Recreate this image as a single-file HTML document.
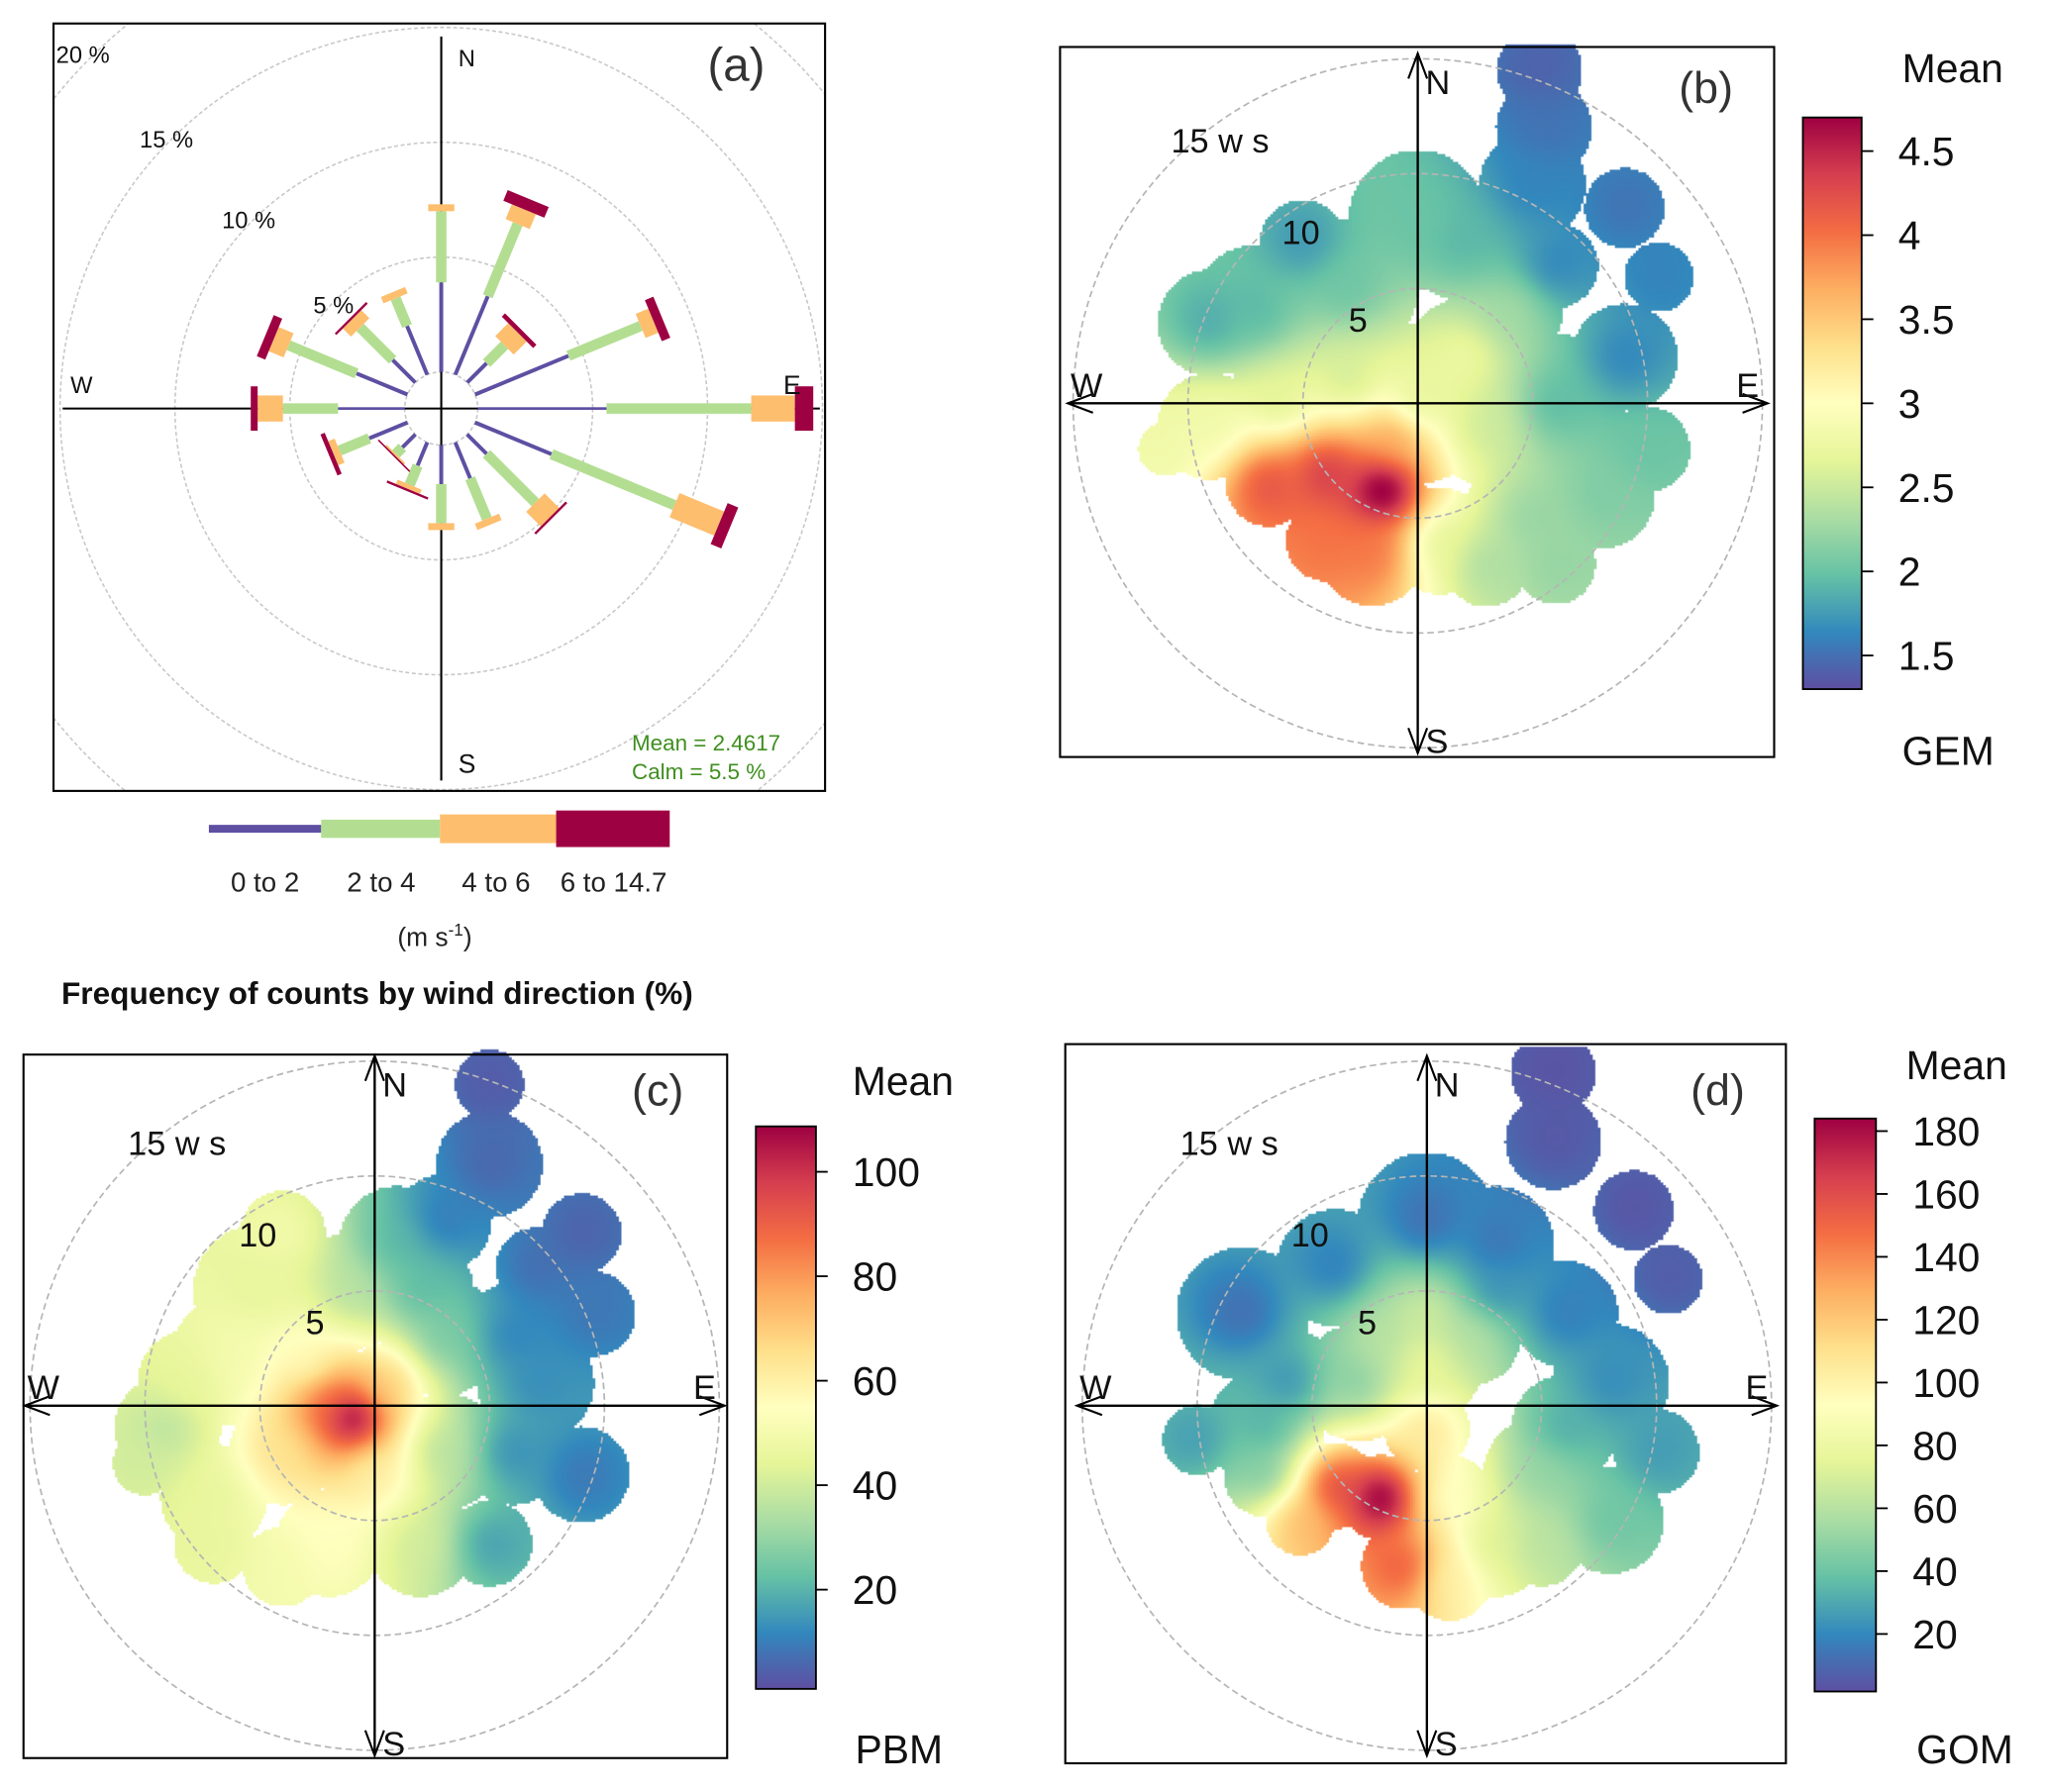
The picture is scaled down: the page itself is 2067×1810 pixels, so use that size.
<!DOCTYPE html>
<html><head><meta charset="utf-8">
<style>
html,body{margin:0;padding:0;background:#fff;}
#wrap{position:absolute;left:0;top:0;width:1568px;height:1373px;transform-origin:0 0;transform:scale(1.318240,1.318282);font-family:"Liberation Sans","DejaVu Sans",sans-serif;}
#wrap svg,#wrap canvas{position:absolute;left:0;top:0;}
</style></head>
<body>
<div id="wrap">
<canvas id="heat" width="1568" height="1373"></canvas>
<svg id="svg" width="1568" height="1373" viewBox="0 0 1568 1373"></svg>
</div>
<script>
// ---------- Wind rose data (panel a) ----------
const wrDirections = [0,22.5,45,67.5,90,112.5,135,157.5,180,202.5,225,247.5,270,292.5,315,337.5];
const wrBin1Cum = [3.9,3.7,1.2,4.4,5.6,3.6,1.2,1.7,1.7,1.1,0.8,1.8,2.9,2.4,1.4,2.3];
const wrBin2Cum = [7.0,7.1,2.3,7.8,11.9,9.4,4.2,3.6,3.4,2.0,1.2,3.2,5.3,5.6,3.4,3.6];
const wrBin3Cum = [7.3,7.8,3.1,8.4,13.8,11.5,5.1,3.9,3.7,2.2,1.3,3.5,6.4,6.3,3.9,3.9];
const wrBin4Cum = [7.3,8.3,3.3,8.8,14.6,12.0,5.2,3.9,3.7,2.3,1.35,3.7,6.7,6.7,4.0,3.9];
const wrBinLabels = ["0 to 2","2 to 4","4 to 6","6 to 14.7"];
const wrRingPct = [5,10,15,20];

// ---------- Polar plot samples: [east ws, north ws, mean value, coverage radius] ----------
const gemPoints = [[5.3,14.5,1.4,1.6],[5.5,12,1.5,1.8],[5,9.5,1.6,2],[9,8.5,1.5,1.5],[10.5,5.5,1.6,1.3],
 [0,8,2.0,2.6],[2,7,1.9,2.2],[-3,5,2.0,2.6],[-7,4,1.9,2.5],[-9,3.5,1.8,2],[-5,7,1.7,1.6],
 [0,0,2.6,3],[2,2,2.8,2.2],[3,-1,2.5,2.2],[-3,1,2.5,2.6],
 [6,0,1.9,2.6],[9,2,1.6,2],[10,-2,2.0,1.6],[8,-4,2.1,2],[5,-5,2.2,2.6],
 [-9,-1,2.8,2],[-11,-2,2.8,1],
 [-1.5,-3.8,5.2,1.6],[-4,-3,4.5,2],[-6.5,-3.5,4.3,1.6],[-2,-6.5,4.0,2],[-1,-1.5,3.8,1.6],
 [1,-6,2.6,2],[3,-7,2.3,1.6],[4,4,2.3,2],[6,6,1.6,1.6],[-6,0,2.6,2],[-4,-6,4.0,1.5],[6,-7,2.2,1.5]];
const pbmPoints = [[-1,-0.5,125,1.5],[-2,0,90,1.5],[0.5,1,70,1.5],[-3,2,55,2],[0,-3,60,2],[-4,-2,65,2],
 [-6,2,50,2.5],[-5,5,45,2.5],[-9,-1,35,2],[-7,-4,45,2],[-2,-6,55,2],[2,-6,40,2],[5,-6,15,1.6],
 [3,-2,35,2.2],[3,3,25,2.2],[1,7,20,2.2],[5,10.5,5,2],[5,14,3,1.3],[9,7.5,4,1.5],[9.5,4,8,1.6],
 [7,1,12,2.2],[9,-3,8,1.8],[-4,7.5,50,1.6],[-1,5,35,2.2],[-10,-2.5,40,1.2],
 [-7,-6,45,1.5],[-8,1,45,2],[-4,-7,50,1.5],[6,-2,12,2],[6,3,10,2],[7,6,6,1.5],[3,8,8,1.8],[2,5,20,2]];
const gomPoints = [[-2,-4,205,1.6],[-4,-3.5,170,1.6],[-1,-7,160,1.6],[-5.5,-5,125,1.3],[0,-1,110,1.6],
 [1,-4,90,1.6],[3,-6,70,2],[5,-3,50,2.2],[0,2,80,2.2],[2,3,60,1.8],[-3,1,45,2.2],[-7,-1,30,2.2],
 [-10,-1.5,25,1.3],[-8,4,10,2.5],[-4,6,15,2.2],[0,8,10,2.6],[3,7,12,2.2],[5.5,14.5,3,1.6],
 [5.5,11.5,4,1.8],[9,8.5,3,1.5],[10.5,5.5,5,1.3],[8,1,20,2.2],[10,-2,25,1.6],[8,-5,40,2],[1,-7.5,100,1.6],
 [6,4,15,2],[6,-1,30,2],[3,5,20,2],[-6,1,20,2],[5,-6,60,1.6],[-7,-3,40,1.6],[0,4,70,2],[-2,3,60,1.6]];
const gemTicks = [1.5,2,2.5,3,3.5,4,4.5];
const pbmTicks = [20,40,60,80,100];
const gomTicks = [20,40,60,80,100,120,140,160,180];
const ringWs = [5,10,15];

const spectral = ["#5E4FA2","#3288BD","#66C2A5","#ABDDA4","#E6F598","#FFFFBF","#FEE08B","#FDAE61","#F46D43","#D53E4F","#9E0142"];
function hex2rgb(h){return [parseInt(h.substr(1,2),16),parseInt(h.substr(3,2),16),parseInt(h.substr(5,2),16)];}
const specRGB = spectral.map(hex2rgb);
function colorAt(t){t=Math.max(0,Math.min(1,t));const f=t*(specRGB.length-1);const i=Math.min(specRGB.length-2,Math.floor(f));const g=f-i;
 return specRGB[i].map((c,k)=>Math.round(c+(specRGB[i+1][k]-c)*g));}

const NS="http://www.w3.org/2000/svg";
const svg=document.getElementById('svg');
function el(tag,attrs,parent){const e=document.createElementNS(NS,tag);for(const k in attrs)e.setAttribute(k,attrs[k]);(parent||svg).appendChild(e);return e;}
function txt(x,y,s,size,opts,parent){opts=opts||{};const t=el('text',Object.assign({x:x,y:y,'font-size':size,fill:opts.fill||'#111','text-anchor':opts.anchor||'start','font-family':'"Liberation Sans","DejaVu Sans",sans-serif'},opts.extra||{}),parent);t.textContent=s;return t;}

// ---------------- Panel (a): wind rose ----------------
const A={cx:338,cy:313,x0:41,y0:18,x1:632,y1:606};
function rr(p){return 28+17.6*p;}
const ga=el('g',{});  
el('clipPath',{id:'clipA'},ga); el('rect',{x:A.x0,y:A.y0,width:A.x1-A.x0,height:A.y1-A.y0},document.getElementById('clipA'));
const rings=el('g',{'clip-path':'url(#clipA)'},ga);
wrRingPct.forEach(p=>{const c=el('circle',{cx:A.cx,cy:A.cy,r:rr(p),fill:'none',stroke:'#c8c8c8','stroke-width':1.2,'stroke-dasharray':'3 2'},rings);
  });
el('circle',{cx:A.cx,cy:A.cy,r:28,fill:'none',stroke:'#c8c8c8','stroke-width':1.2,'stroke-dasharray':'3 2'},rings);
el('line',{x1:A.cx,y1:28,x2:A.cx,y2:598,stroke:'#000','stroke-width':1.6},ga);
el('line',{x1:48,y1:A.cy,x2:628,y2:A.cy,stroke:'#000','stroke-width':1.6},ga);
const binCols=["#5E4FA2","#B3DE92","#FDBE6E","#9E0142"];
const binW=[3,8,20,34];
wrDirections.forEach((d,i)=>{
  const cums=[0,wrBin1Cum[i],wrBin2Cum[i],wrBin3Cum[i],wrBin4Cum[i]];
  for(let b=0;b<4;b++){
    const r0=rr(cums[b]), r1=rr(cums[b+1]); if(r1-r0<=0.05) continue;
    const w=(b===0 && (d===90||d===270))?2:binW[b];
    const rc=el('rect',{x:A.cx-w/2,y:A.cy-r1,width:w,height:Math.max(r1-r0,1.2),fill:binCols[b],transform:'rotate('+d+' '+A.cx+' '+A.cy+')'},ga);
     
  }
});
el('rect',{x:A.x0,y:A.y0,width:A.x1-A.x0,height:A.y1-A.y0,fill:'none',stroke:'#000','stroke-width':1.6},ga);
txt(43,48,'20 %',18,{},ga);txt(107,113,'15 %',18,{},ga);txt(170,175,'10 %',18,{},ga);txt(240,240,'5 %',18,{},ga);
txt(351,51,'N',18,{},ga);txt(54,301,'W',18,{},ga);txt(600,302,'E',20,{},ga);txt(351,592,'S',20,{},ga);
txt(542,62,'(a)',36,{fill:'#333'},ga);
txt(484,575,'Mean = 2.4617',17,{fill:'#3f8f1f'},ga);txt(484,597,'Calm = 5.5 %',17,{fill:'#3f8f1f'},ga);
// legend
const lg=el('g',{});  
const legX=[160,246,337,426,513], legH=[6,14,22,28], legCx=[203,292,380,470];
for(let b=0;b<4;b++){const r=el('rect',{x:legX[b],y:635-legH[b]/2,width:legX[b+1]-legX[b],height:legH[b],fill:binCols[b]},lg);
  
 txt(legCx[b],683,wrBinLabels[b],21,{anchor:'middle',fill:'#222'},lg);}
const un=txt(333,725,'(m s',20,{anchor:'middle',fill:'#222'},lg);
const sup=el('tspan',{dy:-8,'font-size':13},un); sup.textContent='-1'; const cl=el('tspan',{dy:8},un); cl.textContent=')';
const ttl=txt(47,769,'Frequency of counts by wind direction (%)',24,{fill:'#111',extra:{'font-weight':'bold'}});
 

// ---------------- Polar plots (b,c,d) ----------------
const ctx=document.getElementById('heat').getContext('2d');
const SC=17.6;
function drawHeat(cx,cy,pts,vmin,vmax){
  const img=ctx.getImageData(0,0,1568,1373); const D=img.data; const st=2;
  for(let py=cy-275;py<cy+275;py+=st){for(let px=cx-275;px<cx+275;px+=st){
    const u=(px+st/2-cx)/SC, v=(cy-(py+st/2))/SC;
    let cov=false,ws=0,vs=0;
    for(const p of pts){const dx=u-p[0],dy=v-p[1];const d2=dx*dx+dy*dy;
      if(d2<p[3]*p[3]*1.35)cov=true; const w=1/Math.pow(d2+1.5,1.5); ws+=w; vs+=w*p[2];}
    if(!cov)continue;
    const c=colorAt((vs/ws-vmin)/(vmax-vmin));
    for(let yy=py;yy<py+st;yy++)for(let xx=px;xx<px+st;xx++){const k=(yy*1568+xx)*4;D[k]=c[0];D[k+1]=c[1];D[k+2]=c[2];D[k+3]=255;}
  }}
  ctx.putImageData(img,0,0);
}
function polarPanel(P){
  const g=el('g',{});  
  drawHeat(P.cx,P.cy,P.pts,P.vmin,P.vmax);
  ringWs.forEach(w=>{const c=el('circle',{cx:P.cx,cy:P.cy,r:w*SC,fill:'none',stroke:'#b5b5b5','stroke-width':1.3,'stroke-dasharray':'5 3'},g);
     });
  const L=268;
  el('line',{x1:P.cx-L,y1:P.cy,x2:P.cx+L,y2:P.cy,stroke:'#000','stroke-width':1.8},g);
  el('line',{x1:P.cx,y1:P.cy-L,x2:P.cx,y2:P.cy+L,stroke:'#000','stroke-width':1.8},g);
  const a=12;
  [[P.cx+L,P.cy,1,0],[P.cx-L,P.cy,-1,0],[P.cx,P.cy-L,0,-1],[P.cx,P.cy+L,0,1]].forEach(q=>{
    const [x,y,dx,dy]=q; const bx=x-dx*a*1.6, by=y-dy*a*1.6;
    el('polyline',{points:(bx-dy*a*0.6)+','+(by+dx*a*0.6)+' '+x+','+y+' '+(bx+dy*a*0.6)+','+(by-dx*a*0.6),fill:'none',stroke:'#000','stroke-width':1.6},g);});
  el('rect',{x:P.fx0,y:P.fy0,width:P.fx1-P.fx0,height:P.fy1-P.fy0,fill:'none',stroke:'#000','stroke-width':1.6},g);
  txt(P.cx+6,P.cy-237,'N',26,{},g); txt(P.cx+6,P.cy+268,'S',26,{},g);
  txt(P.cx-266,P.cy-5,'W',26,{},g); txt(P.cx+244,P.cy-5,'E',26,{},g);
  txt(P.cx-189,P.cy-192,'15 w s',26,{},g); txt(P.cx-104,P.cy-122,'10',26,{},g); txt(P.cx-53,P.cy-55,'5',26,{},g);
  txt(P.fx1-73,P.cy-230,P.label,34,{fill:'#333'},g);
  // colourbar
  const gid='grad-'+P.name;
  const defs=el('defs',{},g); const lgd=el('linearGradient',{id:gid,x1:0,y1:1,x2:0,y2:0},defs);
  spectral.forEach((c,i)=>el('stop',{offset:(i/(spectral.length-1)),'stop-color':c},lgd));
  const cb=el('rect',{x:P.bx,y:P.by0,width:P.bw,height:P.by1-P.by0,fill:'url(#'+gid+')',stroke:'#000','stroke-width':1.4},g);
   
  P.ticks.forEach(t=>{const y=P.by1-(t-P.vmin)/(P.vmax-P.vmin)*(P.by1-P.by0);
    el('line',{x1:P.bx+P.bw,y1:y,x2:P.bx+P.bw+9,y2:y,stroke:'#000','stroke-width':1.4},g);
    txt(P.bx+P.bw+28,y+11,String(t),31,{fill:'#111'},g);});
  txt(P.meanX,P.meanY,'Mean',31,{},g); txt(P.unitX,P.unitY,P.unit,31,{},g);
}
polarPanel({name:'gem-polar-plot',cx:1086,cy:309,fx0:812,fy0:36,fx1:1359,fy1:580,pts:gemPoints,vmin:1.3,vmax:4.7,ticks:gemTicks,
  label:'(b)',bx:1381,bw:45,by0:90,by1:528,meanX:1457,meanY:63,unit:'GEM',unitX:1457,unitY:586});
polarPanel({name:'pbm-polar-plot',cx:287,cy:1077,fx0:18,fy0:808,fx1:557,fy1:1347,pts:pbmPoints,vmin:1,vmax:108.7,ticks:pbmTicks,
  label:'(c)',bx:579,bw:46,by0:863,by1:1294,meanX:653,meanY:839,unit:'PBM',unitX:655,unitY:1351});
polarPanel({name:'gom-polar-plot',cx:1093,cy:1077,fx0:816,fy0:800,fx1:1368,fy1:1351,pts:gomPoints,vmin:1.7,vmax:184,ticks:gomTicks,
  label:'(d)',bx:1390,bw:47,by0:857,by1:1296,meanX:1460,meanY:827,unit:'GOM',unitX:1468,unitY:1351});
</script>
</body></html>
